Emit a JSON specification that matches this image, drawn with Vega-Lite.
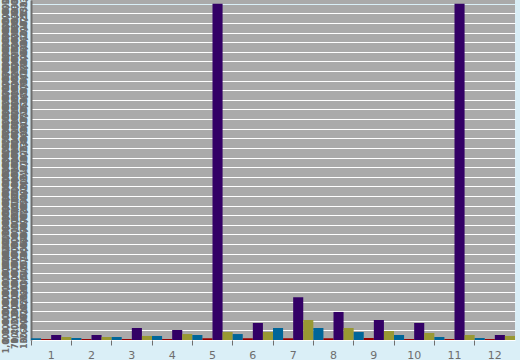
{
  "$schema": "https://vega.github.io/schema/vega-lite/v6.json",
  "width": 484,
  "height": 340,
  "autosize": {"type": "none"},
  "padding": {"left": 31, "top": 0, "right": 5, "bottom": 20},
  "background": "#daeff7",
  "view": {"fill": "#aaaaaa", "stroke": null},
  "data": {
    "values": [
      {"month": "1", "series": "a", "value": 0.18}, {"month": "1", "series": "b", "value": 0.1}, {"month": "1", "series": "c", "value": 0.52}, {"month": "1", "series": "d", "value": 0.31},
      {"month": "2", "series": "a", "value": 0.21}, {"month": "2", "series": "b", "value": 0.1}, {"month": "2", "series": "c", "value": 0.52}, {"month": "2", "series": "d", "value": 0.31},
      {"month": "3", "series": "a", "value": 0.31}, {"month": "3", "series": "b", "value": 0.1}, {"month": "3", "series": "c", "value": 1.25}, {"month": "3", "series": "d", "value": 0.42},
      {"month": "4", "series": "a", "value": 0.42}, {"month": "4", "series": "b", "value": 0.1}, {"month": "4", "series": "c", "value": 1.04}, {"month": "4", "series": "d", "value": 0.62},
      {"month": "5", "series": "a", "value": 0.52}, {"month": "5", "series": "b", "value": 0.18}, {"month": "5", "series": "c", "value": 35}, {"month": "5", "series": "d", "value": 0.83},
      {"month": "6", "series": "a", "value": 0.62}, {"month": "6", "series": "b", "value": 0.18}, {"month": "6", "series": "c", "value": 1.77}, {"month": "6", "series": "d", "value": 0.83},
      {"month": "7", "series": "a", "value": 1.25}, {"month": "7", "series": "b", "value": 0.18}, {"month": "7", "series": "c", "value": 4.45}, {"month": "7", "series": "d", "value": 2.08},
      {"month": "8", "series": "a", "value": 1.25}, {"month": "8", "series": "b", "value": 0.18}, {"month": "8", "series": "c", "value": 2.92}, {"month": "8", "series": "d", "value": 1.25},
      {"month": "9", "series": "a", "value": 0.83}, {"month": "9", "series": "b", "value": 0.21}, {"month": "9", "series": "c", "value": 2.08}, {"month": "9", "series": "d", "value": 0.94},
      {"month": "10", "series": "a", "value": 0.52}, {"month": "10", "series": "b", "value": 0.1}, {"month": "10", "series": "c", "value": 1.77}, {"month": "10", "series": "d", "value": 0.73},
      {"month": "11", "series": "a", "value": 0.31}, {"month": "11", "series": "b", "value": 0.1}, {"month": "11", "series": "c", "value": 35}, {"month": "11", "series": "d", "value": 0.52},
      {"month": "12", "series": "a", "value": 0.21}, {"month": "12", "series": "b", "value": 0.1}, {"month": "12", "series": "c", "value": 0.52}, {"month": "12", "series": "d", "value": 0.42}
    ]
  },
  "mark": {"type": "bar", "clip": true},
  "encoding": {
    "x": {
      "field": "month", "type": "nominal", "sort": null,
      "scale": {"paddingInner": 0, "paddingOuter": 0},
      "axis": {
        "title": null, "labelAngle": 0, "bandPosition": 0,
        "domain": false, "grid": false,
        "tickColor": "#6e6e6e", "tickSize": 5, "tickWidth": 1,
        "labelColor": "#6e6e6e", "labelFont": "DejaVu Sans", "labelFontSize": 11, "labelPadding": 4
      }
    },
    "xOffset": {"field": "series", "type": "nominal", "scale": {"domain": ["a", "b", "c", "d"], "paddingInner": 0, "paddingOuter": 0}},
    "y": {
      "field": "value", "type": "quantitative",
      "scale": {"domain": [0, 35.4], "nice": false, "zero": true},
      "axis": {
        "title": null,
        "values": [0,1,2,3,4,5,6,7,8,9,10,11,12,13,14,15,16,17,18,19,20,21,22,23,24,25,26,27,28,29,30,31,32,33,34,35],
        "grid": true,
        "gridColor": {"condition": {"test": "datum.value == 35", "value": "#daeff7"}, "value": "#ffffff"},
        "gridWidth": 1,
        "ticks": false,
        "domainColor": "#6e6e6e", "domainWidth": 2,
        "labelExpr": "[format(datum.value * 1000003, ',d'), format(datum.value * 700001, ',d'), format(datum.value * 130007, ',d')]",
        "labelAngle": -90,
        "labelFontSize": 8, "labelLineHeight": 9,
        "labelFont": "DejaVu Sans",
        "labelFontWeight": "bold",
        "labelColor": "#6e6e6e",
        "labelOverlap": false, "labelBound": false, "labelFlush": false,
        "labelPadding": 21
      }
    },
    "color": {
      "field": "series", "type": "nominal", "legend": null,
      "scale": {"domain": ["a", "b", "c", "d"], "range": ["#006699", "#990000", "#330066", "#999933"]}
    }
  },
  "config": {"bar": {"stroke": null}}
}
